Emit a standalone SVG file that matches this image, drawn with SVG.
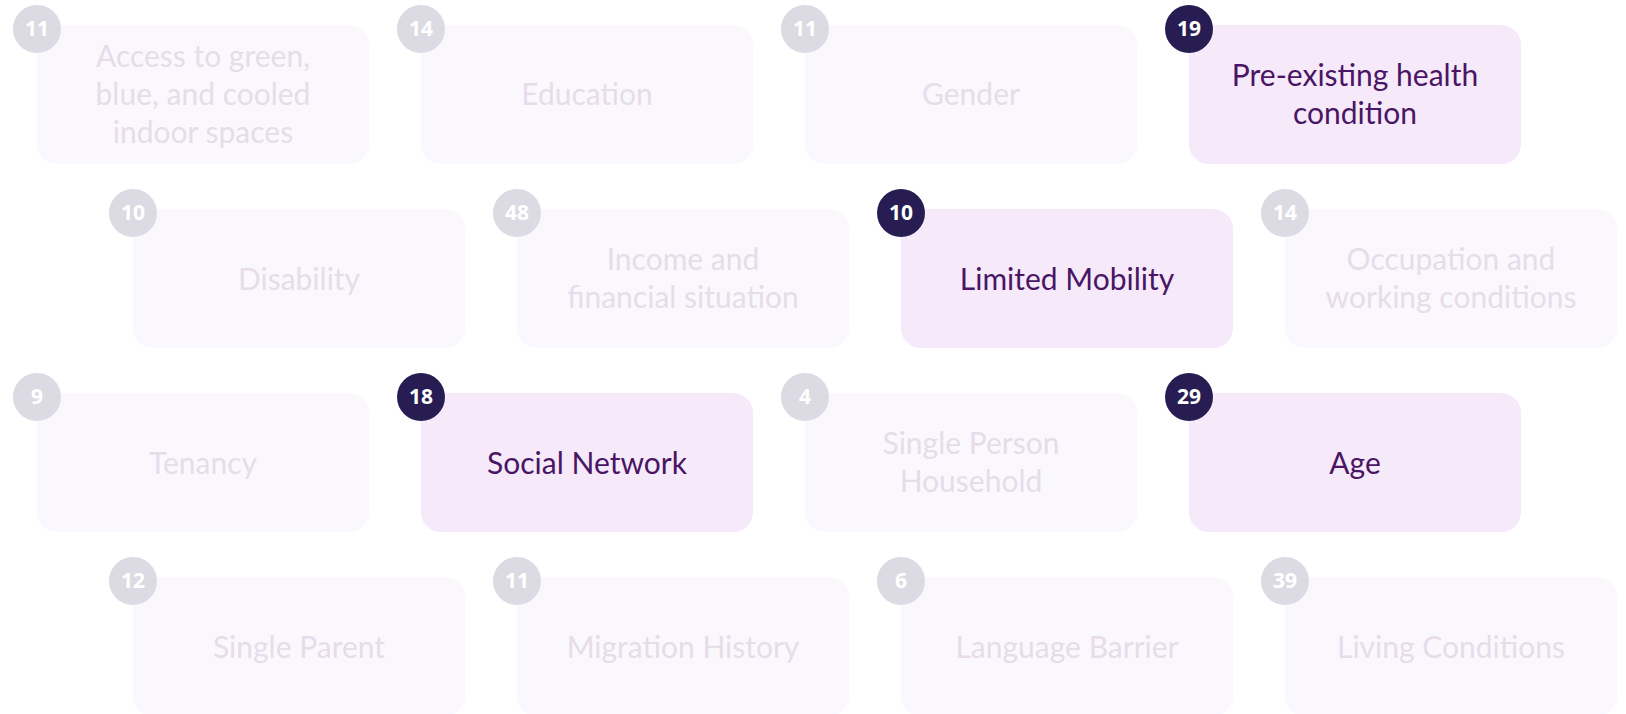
<svg xmlns="http://www.w3.org/2000/svg" width="1626" height="714" viewBox="0 0 1626 714">
  <style>
    .card { fill: #fbf8fd; }
    .card.on { fill: #f5e9fa; }
    .lbl { font-family: Lato, "Open Sans", "Noto Sans", sans-serif; font-size: 30px; fill: #e6dcea; text-anchor: middle; }
    .lbl.on { fill: #4a1565; }
    .badge { fill: #dcdbe4; }
    .badge.on { fill: #271d52; }
    .num { font-family: "Noto Sans", "Open Sans", sans-serif; font-weight: 700; font-size: 21px; fill: #ffffff; text-anchor: middle; }
  </style>
  <rect width="1626" height="714" fill="#ffffff"/>

  <!-- row 1 -->
  <g id="access">
    <rect class="card" x="37" y="25" width="332" height="139" rx="20"/>
    <text class="lbl" x="203" y="67">Access to green,</text>
    <text class="lbl" x="203" y="105">blue, and cooled</text>
    <text class="lbl" x="203" y="143">indoor spaces</text>
    <circle class="badge" cx="37" cy="29" r="24"/>
    <text class="num" x="37" y="36">11</text>
  </g>
  <g id="education">
    <rect class="card" x="421" y="25" width="332" height="139" rx="20"/>
    <text class="lbl" x="587" y="105">Education</text>
    <circle class="badge" cx="421" cy="29" r="24"/>
    <text class="num" x="421" y="36">14</text>
  </g>
  <g id="gender">
    <rect class="card" x="805" y="25" width="332" height="139" rx="20"/>
    <text class="lbl" x="971" y="105">Gender</text>
    <circle class="badge" cx="805" cy="29" r="24"/>
    <text class="num" x="805" y="36">11</text>
  </g>
  <g id="preexisting">
    <rect class="card on" x="1189" y="25" width="332" height="139" rx="20"/>
    <text class="lbl on" x="1355" y="86">Pre-existing health</text>
    <text class="lbl on" x="1355" y="124">condition</text>
    <circle class="badge on" cx="1189" cy="29" r="24"/>
    <text class="num" x="1189" y="36">19</text>
  </g>

  <!-- row 2 -->
  <g id="disability">
    <rect class="card" x="133" y="209" width="332" height="139" rx="20"/>
    <text class="lbl" x="299" y="290">Disability</text>
    <circle class="badge" cx="133" cy="213" r="24"/>
    <text class="num" x="133" y="220">10</text>
  </g>
  <g id="income">
    <rect class="card" x="517" y="209" width="332" height="139" rx="20"/>
    <text class="lbl" x="683" y="270">Income and</text>
    <text class="lbl" x="683" y="308">financial situation</text>
    <circle class="badge" cx="517" cy="213" r="24"/>
    <text class="num" x="517" y="220">48</text>
  </g>
  <g id="mobility">
    <rect class="card on" x="901" y="209" width="332" height="139" rx="20"/>
    <text class="lbl on" x="1067" y="290">Limited Mobility</text>
    <circle class="badge on" cx="901" cy="213" r="24"/>
    <text class="num" x="901" y="220">10</text>
  </g>
  <g id="occupation">
    <rect class="card" x="1285" y="209" width="332" height="139" rx="20"/>
    <text class="lbl" x="1451" y="270">Occupation and</text>
    <text class="lbl" x="1451" y="308">working conditions</text>
    <circle class="badge" cx="1285" cy="213" r="24"/>
    <text class="num" x="1285" y="220">14</text>
  </g>

  <!-- row 3 -->
  <g id="tenancy">
    <rect class="card" x="37" y="393" width="332" height="139" rx="20"/>
    <text class="lbl" x="203" y="474">Tenancy</text>
    <circle class="badge" cx="37" cy="397" r="24"/>
    <text class="num" x="37" y="404">9</text>
  </g>
  <g id="social">
    <rect class="card on" x="421" y="393" width="332" height="139" rx="20"/>
    <text class="lbl on" x="587" y="474">Social Network</text>
    <circle class="badge on" cx="421" cy="397" r="24"/>
    <text class="num" x="421" y="404">18</text>
  </g>
  <g id="single-person">
    <rect class="card" x="805" y="393" width="332" height="139" rx="20"/>
    <text class="lbl" x="971" y="454">Single Person</text>
    <text class="lbl" x="971" y="492">Household</text>
    <circle class="badge" cx="805" cy="397" r="24"/>
    <text class="num" x="805" y="404">4</text>
  </g>
  <g id="age">
    <rect class="card on" x="1189" y="393" width="332" height="139" rx="20"/>
    <text class="lbl on" x="1355" y="474">Age</text>
    <circle class="badge on" cx="1189" cy="397" r="24"/>
    <text class="num" x="1189" y="404">29</text>
  </g>

  <!-- row 4 -->
  <g id="single-parent">
    <rect class="card" x="133" y="577" width="332" height="139" rx="20"/>
    <text class="lbl" x="299" y="658">Single Parent</text>
    <circle class="badge" cx="133" cy="581" r="24"/>
    <text class="num" x="133" y="588">12</text>
  </g>
  <g id="migration">
    <rect class="card" x="517" y="577" width="332" height="139" rx="20"/>
    <text class="lbl" x="683" y="658">Migration History</text>
    <circle class="badge" cx="517" cy="581" r="24"/>
    <text class="num" x="517" y="588">11</text>
  </g>
  <g id="language">
    <rect class="card" x="901" y="577" width="332" height="139" rx="20"/>
    <text class="lbl" x="1067" y="658">Language Barrier</text>
    <circle class="badge" cx="901" cy="581" r="24"/>
    <text class="num" x="901" y="588">6</text>
  </g>
  <g id="living">
    <rect class="card" x="1285" y="577" width="332" height="139" rx="20"/>
    <text class="lbl" x="1451" y="658">Living Conditions</text>
    <circle class="badge" cx="1285" cy="581" r="24"/>
    <text class="num" x="1285" y="588">39</text>
  </g>

  <g id="connectors"/>
</svg>
